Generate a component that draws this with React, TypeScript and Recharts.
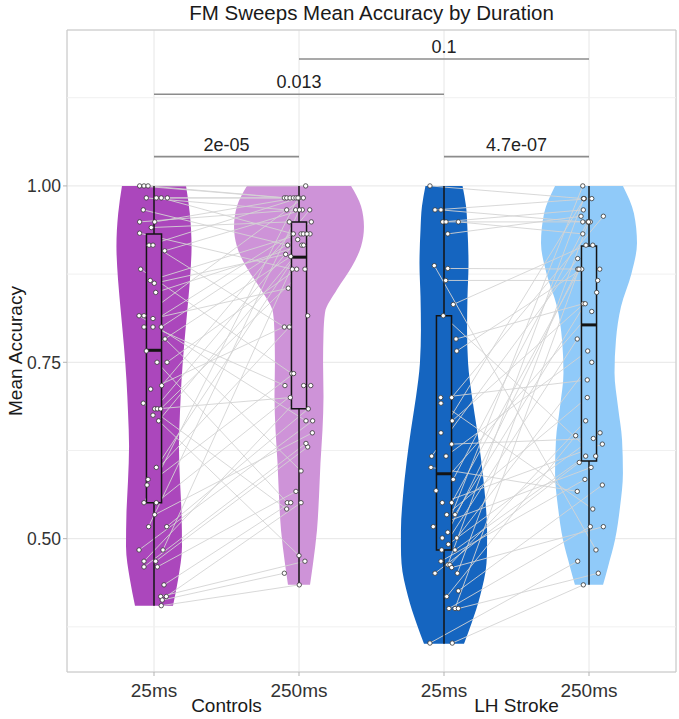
import React from 'react';
import { ComposedChart, XAxis, YAxis, CartesianGrid, Area, Scatter, ReferenceLine, ReferenceArea } from 'recharts';

// ---------- data ----------
const groupLabels = ['Controls', 'LH Stroke'];
const groupPositions = [1.5, 3.5];
const durationLabels = ['25ms', '250ms', '25ms', '250ms'];
const conditionPositions = [1, 2, 3, 4];
const yTicks = [0.5, 0.75, 1.0];
const yMinorBreaks = [0.375, 0.625, 0.875, 1.125];
const conditionColors = ['#AB47BC', '#CE93D8', '#1565C0', '#90CAF9'];

// violin profiles: [accuracy, half-width in category units]
const violinCtl25: [number, number][] = [
  [1.0, 0.221], [0.961, 0.247], [0.914, 0.259], [0.867, 0.248], [0.82, 0.228], [0.772, 0.207],
  [0.725, 0.19], [0.678, 0.179], [0.631, 0.172], [0.583, 0.179], [0.536, 0.19], [0.489, 0.193],
  [0.442, 0.166], [0.405, 0.131],
];
const violinCtl250: [number, number][] = [
  [1.0, 0.359], [0.971, 0.428], [0.942, 0.448], [0.914, 0.428], [0.886, 0.366], [0.853, 0.262],
  [0.82, 0.179], [0.791, 0.169], [0.749, 0.166], [0.701, 0.169], [0.654, 0.162], [0.607, 0.148],
  [0.56, 0.138], [0.512, 0.124], [0.465, 0.097], [0.4345, 0.076],
];
const violinLh25: [number, number][] = [
  [1.0, 0.128], [0.971, 0.152], [0.938, 0.162], [0.89, 0.169], [0.843, 0.162], [0.796, 0.159],
  [0.749, 0.166], [0.701, 0.193], [0.654, 0.228], [0.607, 0.259], [0.56, 0.283], [0.512, 0.297],
  [0.489, 0.297], [0.465, 0.293], [0.418, 0.248], [0.38, 0.19], [0.351, 0.138],
];
const violinLh250: [number, number][] = [
  [1.0, 0.234], [0.961, 0.31], [0.919, 0.331], [0.876, 0.293], [0.829, 0.221], [0.782, 0.186],
  [0.735, 0.176], [0.687, 0.2], [0.64, 0.228], [0.593, 0.234], [0.545, 0.214], [0.498, 0.179],
  [0.46, 0.131], [0.4345, 0.097],
];

// box stats per condition
const boxMin = [0.405, 0.4345, 0.351, 0.4345];
const boxQ1 = [0.551, 0.684, 0.484, 0.61];
const boxMedian = [0.767, 0.899, 0.592, 0.803];
const boxQ3 = [0.932, 0.949, 0.816, 0.915];
const boxMax = [1.0, 1.0, 1.0, 1.0];

// subject accuracies (index = subject, paired across durations) and jitter (category units)
const ctl25 = [1.0, 1.0, 1.0, 0.983, 0.983, 0.983, 0.983, 0.966, 0.949, 0.949, 0.941, 0.933, 0.916, 0.916, 0.908, 0.882, 0.866, 0.862, 0.849, 0.816, 0.816, 0.812, 0.8, 0.8, 0.8, 0.783, 0.766, 0.75, 0.75, 0.717, 0.712, 0.692, 0.684, 0.684, 0.684, 0.675, 0.667, 0.601, 0.584, 0.576, 0.551, 0.551, 0.534, 0.517, 0.517, 0.484, 0.484, 0.468, 0.468, 0.46, 0.46, 0.4345, 0.418, 0.418, 0.413, 0.405];
const ctl25Jitter = [-0.099, -0.069, -0.041, -0.053, 0.016, 0.05, 0.092, -0.074, -0.099, 0.005, -0.019, -0.099, -0.034, -0.007, 0.074, -0.092, -0.026, 0.002, 0.012, -0.103, -0.069, -0.007, -0.069, -0.007, 0.05, 0.076, -0.053, 0.021, 0.09, 0.053, -0.023, -0.074, 0.005, 0.023, 0.046, -0.007, 0.032, 0.016, -0.041, -0.048, -0.069, 0.016, 0.005, -0.037, 0.088, -0.103, 0.062, -0.069, 0.012, -0.069, 0.023, 0.069, 0.046, 0.085, 0.057, 0.05];
const ctl250 = [0.983, 1.0, 0.983, 0.966, 0.983, 0.932, 0.983, 0.916, 0.966, 0.983, 0.949, 0.882, 0.983, 0.8, 0.966, 0.734, 0.932, 0.903, 0.916, 0.667, 0.983, 0.855, 0.949, 0.717, 0.932, 0.596, 0.9, 0.551, 0.882, 0.966, 0.816, 0.542, 0.924, 0.7, 0.882, 0.476, 0.916, 0.932, 0.8, 0.734, 0.983, 0.717, 0.65, 0.966, 0.684, 0.667, 0.932, 0.717, 0.63, 0.635, 0.567, 0.551, 0.468, 0.551, 0.451, 0.4345];
const ctl250Jitter = [-0.101, 0.046, -0.085, -0.085, -0.062, -0.039, -0.039, -0.078, -0.023, -0.021, -0.067, -0.046, 0, -0.101, 0.023, -0.05, 0.014, -0.092, 0.019, 0.048, 0.03, -0.074, 0.085, -0.097, 0.03, 0.014, -0.057, -0.081, -0.016, 0.074, 0.06, -0.085, -0.009, -0.06, 0.041, 0, 0.032, 0.076, -0.067, -0.037, -0.007, 0.032, 0.092, 0.003, 0.064, 0.094, 0.055, 0.081, 0.06, 0.048, -0.021, -0.057, 0.041, 0.014, -0.101, 0.002];
const lh25 = [1.0, 0.966, 0.966, 0.949, 0.949, 0.949, 0.932, 0.887, 0.883, 0.866, 0.832, 0.816, 0.783, 0.766, 0.7, 0.7, 0.692, 0.667, 0.65, 0.634, 0.617, 0.617, 0.601, 0.584, 0.568, 0.551, 0.551, 0.534, 0.534, 0.517, 0.509, 0.501, 0.501, 0.492, 0.484, 0.484, 0.468, 0.463, 0.463, 0.459, 0.451, 0.451, 0.426, 0.418, 0.401, 0.401, 0.401, 0.352, 0.352];
const lh25Jitter = [-0.097, -0.062, -0.021, -0.009, 0.014, 0.099, 0.026, -0.067, 0.026, 0.012, 0.064, -0.005, 0.083, 0.088, -0.023, 0.053, -0.021, 0.057, -0.021, 0.053, -0.085, 0.014, -0.09, 0.064, -0.055, -0.012, 0.053, 0.019, 0.076, -0.074, 0.026, -0.012, 0.088, 0.03, -0.016, 0.076, -0.021, 0.026, 0.041, 0.053, -0.062, 0.092, 0.099, 0.019, 0.034, 0.076, 0.099, -0.097, 0.057];
const lh250 = [0.982, 0.982, 0.949, 0.966, 0.949, 0.932, 0.957, 0.484, 0.882, 0.866, 0.916, 0.617, 0.833, 0.882, 0.725, 0.957, 0.542, 0.849, 0.982, 0.642, 0.897, 0.766, 0.567, 0.949, 0.822, 0.634, 0.916, 0.7, 0.833, 0.601, 0.882, 1.0, 0.75, 0.65, 0.783, 0.617, 0.584, 0.982, 0.667, 0.517, 0.608, 0.949, 0.576, 0.646, 0.517, 0.882, 0.451, 0.468, 0.4345];
const lh250Jitter = [-0.039, 0.019, -0.043, -0.039, 0.009, -0.043, -0.055, 0.048, 0.074, 0.06, -0.021, 0.046, -0.039, -0.05, -0.012, 0.099, 0.026, 0.053, -0.032, 0.03, -0.078, -0.009, -0.081, -0.009, 0.019, 0.092, 0.026, -0.012, -0.026, 0.014, -0.078, -0.043, 0.019, 0.076, -0.081, -0.023, -0.028, -0.036, -0.023, 0.099, -0.067, -0.003, 0.092, -0.092, 0.009, -0.069, 0.064, -0.078, -0.039];

// significance brackets
const bracketLabels = ['2e-05', '4.7e-07', '0.013', '0.1'];
const bracketFrom = [1, 3, 1, 2];
const bracketTo = [2, 4, 3, 4];
const bracketLevel = [1.0415, 1.0415, 1.13, 1.18];

// ---------- layout / style ----------
const W = 679;
const H = 719;
const MARGIN = { top: 30, right: 3, bottom: 0, left: 0 };
const Y_AXIS_W = 67;
const X_AXIS_H = 47;
const X_DOMAIN: [number, number] = [0.4, 4.6];
const Y_DOMAIN: [number, number] = [0.311, 1.221];
const FONT = '"Liberation Sans", Arial, Helvetica, sans-serif';
const BOX_HALF = 0.052;

// ---------- derived tables ----------
const conditionSeries = [
  { values: ctl25, jitter: ctl25Jitter },
  { values: ctl250, jitter: ctl250Jitter },
  { values: lh25, jitter: lh25Jitter },
  { values: lh250, jitter: lh250Jitter },
];
const violinProfiles = [violinCtl25, violinCtl250, violinLh25, violinLh250];
const violinKeys = ['c25', 'c250', 'l25', 'l250'];
const violinRows = violinProfiles.flatMap((prof, gi) =>
  prof.map(([v, w]) => {
    const row: any = { v };
    violinKeys.forEach((k, ki) => {
      row[k] = ki === gi ? [conditionPositions[gi] - w, conditionPositions[gi] + w] : [null, null];
    });
    return row;
  })
);
const pointSets = conditionSeries.map((s, ci) =>
  s.values.map((v, i) => ({ x: conditionPositions[ci] + s.jitter[i], v }))
);
const pairSegments: { a: { x: number; y: number }; b: { x: number; y: number } }[] = [];
[[0, 1], [2, 3]].forEach(([c1, c2]) => {
  pointSets[c1].forEach((p, i) => {
    const q = pointSets[c2][i];
    if (q) pairSegments.push({ a: { x: p.x, y: p.v }, b: { x: q.x, y: q.v } });
  });
});

const Dot = (props: any) => (
  <circle cx={props.cx} cy={props.cy} r={2.2} fill="#ffffff" stroke="#333333" strokeWidth={0.8} />
);

function Layer({ children, data, base = false, groups = false }: any) {
  return (
    <div style={{ position: 'absolute', left: 0, top: 0 }}>
      <ComposedChart layout="vertical" width={W} height={H} margin={MARGIN} data={data}>
        {base ? (
          <XAxis
            type="number"
            dataKey="x"
            domain={X_DOMAIN}
            allowDataOverflow
            ticks={conditionPositions}
            interval={0}
            tickFormatter={(t: number) => durationLabels[conditionPositions.indexOf(t)] ?? ''}
            height={X_AXIS_H}
            axisLine={false}
            tickSize={4}
            tickLine={{ stroke: '#b3b3b3' }}
            tickMargin={8}
            tick={{ fill: '#333333', fontSize: 19, fontFamily: FONT }}
          />
        ) : groups ? (
          <XAxis
            type="number"
            dataKey="x"
            domain={X_DOMAIN}
            allowDataOverflow
            ticks={groupPositions}
            interval={0}
            tickFormatter={(t: number) => groupLabels[groupPositions.indexOf(t)] ?? ''}
            height={X_AXIS_H}
            axisLine={false}
            tickLine={false}
            tickSize={0}
            tickMargin={27}
            tick={{ fill: '#1a1a1a', fontSize: 19, fontFamily: FONT }}
          />
        ) : (
          <XAxis type="number" dataKey="x" domain={X_DOMAIN} allowDataOverflow height={X_AXIS_H} axisLine={false} tickLine={false} tick={false} />
        )}
        {base ? (
          <YAxis
            type="number"
            dataKey="v"
            domain={Y_DOMAIN}
            allowDataOverflow
            reversed
            ticks={yTicks}
            interval={0}
            tickFormatter={(t: number) => t.toFixed(2)}
            width={Y_AXIS_W}
            axisLine={false}
            tickSize={4}
            tickLine={{ stroke: '#b3b3b3' }}
            tickMargin={2}
            tick={{ fill: '#333333', fontSize: 17.5, fontFamily: FONT }}
            label={{
              value: 'Mean Accuracy',
              angle: -90,
              position: 'insideLeft',
              offset: 15,
              style: { textAnchor: 'middle', fontSize: 19, fill: '#1a1a1a', fontFamily: FONT },
            }}
          />
        ) : (
          <YAxis type="number" dataKey="v" domain={Y_DOMAIN} allowDataOverflow reversed width={Y_AXIS_W} axisLine={false} tickLine={false} tick={false} />
        )}
        {children}
      </ComposedChart>
    </div>
  );
}

export default function App() {
  return (
    <div style={{ position: 'fixed', left: 0, top: 0, width: W, height: H, background: '#ffffff', overflow: 'hidden' }}>
      {/* grid, axes, border */}
      <Layer base>
        <CartesianGrid stroke="#e6e6e6" strokeWidth={1} />
        {yMinorBreaks.map((b) => (
          <ReferenceLine key={'m' + b} y={b} stroke="#f0f0f0" strokeWidth={1} ifOverflow="visible" />
        ))}
        <ReferenceArea x1={X_DOMAIN[0]} x2={X_DOMAIN[1]} y1={Y_DOMAIN[0]} y2={Y_DOMAIN[1]} fill="none" stroke="#c8c8c8" strokeWidth={1} ifOverflow="visible" />
      </Layer>
      {/* violins */}
      <Layer data={violinRows}>
        {violinKeys.map((k, i) => (
          <Area
            key={k}
            dataKey={k}
            type="monotone"
            fill={conditionColors[i]}
            fillOpacity={1}
            stroke="none"
            connectNulls
            dot={false}
            activeDot={false}
            isAnimationActive={false}
          />
        ))}
      </Layer>
      {/* paired lines */}
      <Layer>
        {pairSegments.map((s, i) => (
          <ReferenceLine key={'p' + i} segment={[s.a, s.b]} stroke="#d4d4d4" strokeWidth={0.9} ifOverflow="visible" />
        ))}
      </Layer>
      {/* boxes, points, brackets, group labels */}
      <Layer groups>
        {conditionPositions.map((p, i) => (
          <ReferenceArea
            key={'box' + i}
            x1={p - BOX_HALF}
            x2={p + BOX_HALF}
            y1={boxQ1[i]}
            y2={boxQ3[i]}
            fill={conditionColors[i]}
            fillOpacity={1}
            stroke="#141414"
            strokeWidth={1.5}
            ifOverflow="visible"
          />
        ))}
        {conditionPositions.map((p, i) => (
          <ReferenceLine key={'wu' + i} segment={[{ x: p, y: boxQ3[i] }, { x: p, y: boxMax[i] }]} stroke="#141414" strokeWidth={1.5} ifOverflow="visible" />
        ))}
        {conditionPositions.map((p, i) => (
          <ReferenceLine key={'wl' + i} segment={[{ x: p, y: boxMin[i] }, { x: p, y: boxQ1[i] }]} stroke="#141414" strokeWidth={1.5} ifOverflow="visible" />
        ))}
        {conditionPositions.map((p, i) => (
          <ReferenceLine key={'md' + i} segment={[{ x: p - BOX_HALF, y: boxMedian[i] }, { x: p + BOX_HALF, y: boxMedian[i] }]} stroke="#141414" strokeWidth={3} ifOverflow="visible" />
        ))}
        {bracketLabels.map((lbl, i) => (
          <ReferenceLine
            key={'br' + i}
            segment={[{ x: bracketFrom[i], y: bracketLevel[i] }, { x: bracketTo[i], y: bracketLevel[i] }]}
            stroke="#8c8c8c"
            strokeWidth={1.6}
            ifOverflow="visible"
            label={{ value: lbl, position: 'top', offset: 6, fill: '#222222', fontSize: 18, fontFamily: FONT }}
          />
        ))}
        {pointSets.map((pts, i) => (
          <Scatter key={'pts' + i} data={pts} dataKey="v" shape={Dot} isAnimationActive={false} />
        ))}
      </Layer>
      <div
        style={{
          position: 'absolute',
          left: Y_AXIS_W,
          top: 0,
          width: W - Y_AXIS_W - MARGIN.right,
          height: 26,
          lineHeight: '26px',
          textAlign: 'center',
          fontFamily: FONT,
          fontSize: 20.5,
          color: '#1a1a1a',
        }}
      >
        FM Sweeps Mean Accuracy by Duration
      </div>
    </div>
  );
}
